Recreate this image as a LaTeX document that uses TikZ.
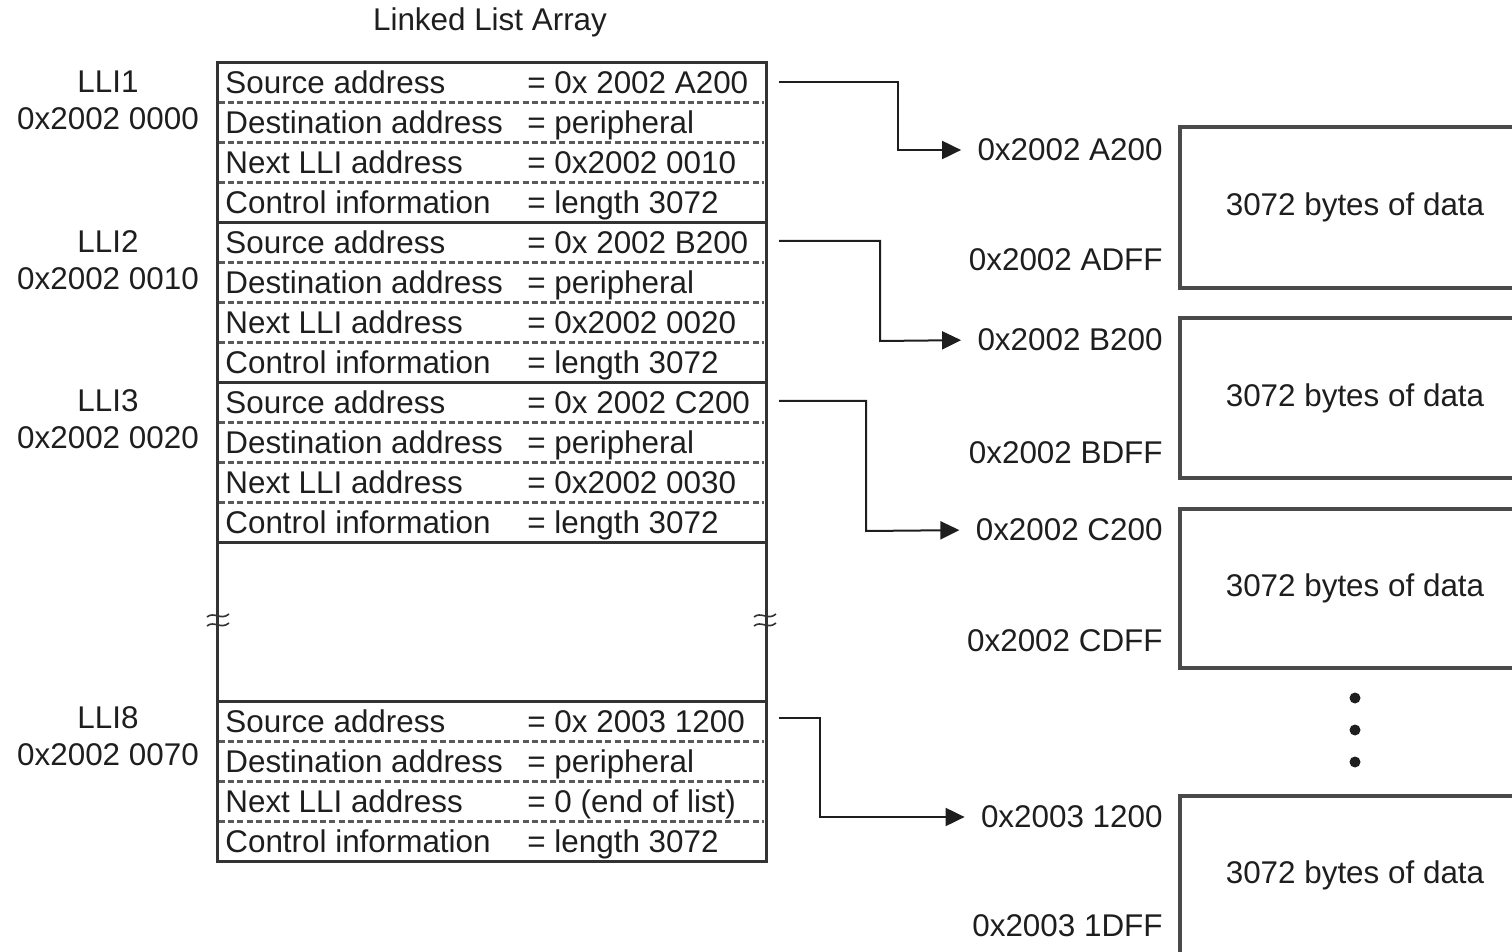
\documentclass[tikz,border=0pt]{standalone}
\usepackage{fontspec}
\setmainfont{Liberation Sans}
\usetikzlibrary{arrows.meta}

\definecolor{ink}{HTML}{1E1E1E}
\definecolor{rule}{HTML}{333333}
\definecolor{dash}{HTML}{5A5A5A}
\definecolor{boxline}{HTML}{4A4A4A}

\tikzset{
  txt/.style={font=\fontsize{15.7}{18}\selectfont, inner sep=0pt, text=ink},
  frame/.style={draw=rule, line width=1.5pt},
  sep/.style={draw=dash, line width=1.5pt, dash pattern=on 3pt off 1.6pt},
  conn/.style={draw=ink, line width=1pt, -{Triangle[length=9.5pt,width=9pt]}, shorten >=8pt},
  databox/.style={draw=boxline, line width=1.7pt},
  brk/.style={draw=rule, line width=0.8pt}
}

% one block of the linked list: name, top y, source, next
\newcommand\lliblock[4]{%
  \draw[frame] (217,#2) rectangle (766,{#2+160});
  \foreach \k in {1,2,3} \draw[sep] (219,{#2+40*\k}) -- (764,{#2+40*\k});
  \node[txt, anchor=base west] (#1src) at (225,{#2+31}) {Source address};
  \node[txt, anchor=base west] (#1srcv) at (527,{#2+31}) {= #3};
  \node[txt, anchor=base west] (#1dst) at (225,{#2+71}) {Destination address};
  \node[txt, anchor=base west] (#1dstv) at (527,{#2+71}) {= peripheral};
  \node[txt, anchor=base west] (#1nxt) at (225,{#2+111}) {Next LLI address};
  \node[txt, anchor=base west] (#1nxtv) at (527,{#2+111}) {= #4};
  \node[txt, anchor=base west] (#1ctl) at (225,{#2+151}) {Control information};
  \node[txt, anchor=base west] (#1ctlv) at (527,{#2+151}) {= length 3072};
}

\begin{document}
\begin{tikzpicture}[x=0.5pt,y=-0.5pt]
\useasboundingbox (0,0) rectangle (1512,952);

\node[txt] (title) at (490,22) {Linked List Array};

% list blocks
\lliblock{a}{63}{0x 2002 A200}{0x2002 0010}
\lliblock{b}{223}{0x 2002 B200}{0x2002 0020}
\lliblock{c}{383}{0x 2002 C200}{0x2002 0030}
\lliblock{h}{701}{0x 2003 1200}{0 (end of list)}

% gap between LLI3 and LLI8
\draw[frame] (217,543) -- (217,701);
\draw[frame] (766,543) -- (766,701);
\foreach \bx in {218,765} {
  \draw[brk] (\bx-11,617) .. controls (\bx-4,611) and (\bx+3,621) .. (\bx+11,614);
  \draw[brk] (\bx-11,626) .. controls (\bx-4,620) and (\bx+3,630) .. (\bx+11,623);
}

% block labels
\node[txt] (la) at (108,82) {LLI1};
\node[txt] (laa) at (108,119) {0x2002 0000};
\node[txt] (lb) at (108,242) {LLI2};
\node[txt] (lba) at (108,279) {0x2002 0010};
\node[txt] (lc) at (108,401) {LLI3};
\node[txt] (lca) at (108,438) {0x2002 0020};
\node[txt] (lh) at (108,718) {LLI8};
\node[txt] (lha) at (108,755) {0x2002 0070};

% data buffers
\draw[databox] (1514,127) -- (1180,127) -- (1180,288) -- (1514,288);
\draw[databox] (1514,318) -- (1180,318) -- (1180,478) -- (1514,478);
\draw[databox] (1514,509) -- (1180,509) -- (1180,668) -- (1514,668);
\draw[databox] (1514,796) -- (1180,796) -- (1180,954);
\node[txt] (d1) at (1355,207) {3072 bytes of data};
\node[txt] (d2) at (1355,398) {3072 bytes of data};
\node[txt] (d3) at (1355,588) {3072 bytes of data};
\node[txt] (d4) at (1355,875) {3072 bytes of data};
\foreach \dy in {698,730,762} \fill[ink] (1355,\dy) circle (5.5);

% buffer start and end addresses
\node[txt, anchor=east] (s1) at (1163,150) {0x2002 A200};
\node[txt, anchor=east] (e1) at (1163,260) {0x2002 ADFF};
\node[txt, anchor=east] (s2) at (1163,340) {0x2002 B200};
\node[txt, anchor=east] (e2) at (1163,453) {0x2002 BDFF};
\node[txt, anchor=east] (s3) at (1163,530) {0x2002 C200};
\node[txt, anchor=east] (e3) at (1163,641) {0x2002 CDFF};
\node[txt, anchor=east] (s4) at (1163,817) {0x2003 1200};
\node[txt, anchor=east] (e4) at (1163,926) {0x2003 1DFF};

% source pointers
\coordinate (p1) at (779,82);
\coordinate (p2) at (779,241);
\coordinate (p3) at (779,401);
\coordinate (p4) at (779,718);
\draw[conn] (p1) -- (898,82) -- (898,150) -- (s1.west);
\draw[conn] (p2) -- (880,241) -- (880,341) -- (s2.west);
\draw[conn] (p3) -- (866,401) -- (866,531) -- (s3.west);
\draw[conn] (p4) -- (820,718) -- (820,817) -- (s4.west);
\end{tikzpicture}
\end{document}
